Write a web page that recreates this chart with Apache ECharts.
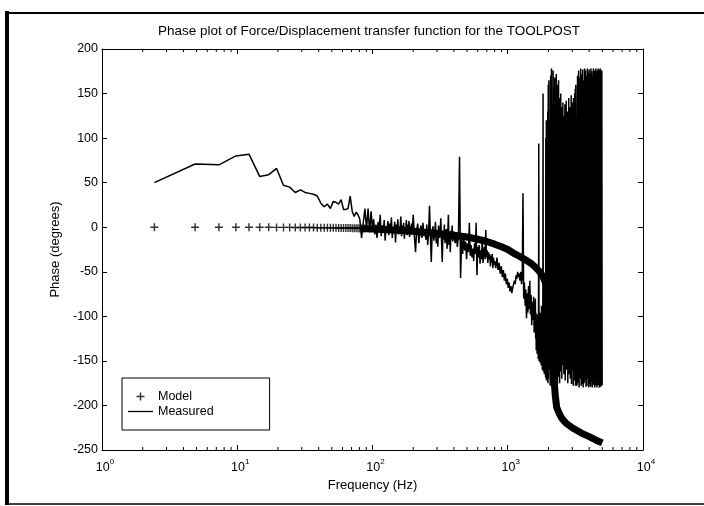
<!DOCTYPE html>
<html><head><meta charset="utf-8">
<script src="https://cdn.jsdelivr.net/npm/echarts@6/dist/echarts.min.js"></script>
<style>html,body{margin:0;padding:0;background:#fff}#c{width:704px;height:506px}</style>
</head><body><div id="c"></div>
<script>
// ---- data ----
const titleText = 'Phase plot of Force/Displacement transfer function for the TOOLPOST';
const xName = 'Frequency (Hz)';
const yName = 'Phase (degrees)';
const xMinorTicks = [2,3,4,5,6,7,8,9,20,30,40,50,60,70,80,90,200,300,400,500,600,700,800,900,2000,3000,4000,5000,6000,7000,8000,9000];

// Model: individual "+" marks at low frequency
const modelMarkFreq = [2.44,4.88,7.32,9.77,12.21,14.65,17.09,19.53,21.97,24.41,26.86,29.3,31.74,34.18,36.62,39.06,41.5,43.95,46.39,48.83,51.27,53.71,56.15,58.59,61.04,63.48,65.92,68.36,70.8,73.24,75.68,78.13,80.57,83.01,85.45,87.89];
const modelMarkPhase = [0,0,0,0,-0.1,-0.1,-0.1,-0.2,-0.2,-0.2,-0.3,-0.3,-0.3,-0.4,-0.4,-0.5,-0.5,-0.5,-0.6,-0.6,-0.7,-0.7,-0.8,-0.8,-0.9,-0.9,-1,-1,-1.1,-1.1,-1.2,-1.2,-1.3,-1.3,-1.4,-1.4];
// Model: where the marks merge into a solid band
const modelBandFreq = [85,100,150,200,300,400,500,600,700,800,900,1000,1100,1200,1300,1400,1500,1600,1700,1800,1900,1950,2000,2050,2100,2150,2200,2250,2300,2400,2500,2700,3000,3500,4000,4500,5000];
const modelBandPhase = [-1.4,-2,-3.5,-4.5,-7,-9,-11,-13.5,-16,-19,-22,-25,-29,-32,-35,-38,-41,-45,-49,-54,-62,-68,-76,-88,-115,-145,-172,-190,-202,-209,-214,-220,-225,-231,-235,-239,-242];

// Measured
const measFreq = [2.44,4.88,7.32,9.77,12.21,14.65,17.09,19.53,21.97,24.41,26.86,29.3,31.74,34.18,36.62,39.06,41.5,43.95,46.39,48.83,51.27,53.71,56.15,58.59,61.04,63.48,65.92,68.36,70.8,73.24,75.68,78.13,80.57,83.01,85.45,87.89,90.33,92.77,95.21,97.66,
100,102,104,106,108,110,112,114,116,118,120,122,124,126,128,130,132,134,136,138,140,142,144,146,148,150,152,154,156,158,160,162,164,166,168,170,172,174,176,178,180,182,184,186,188,190,192,194,196,198,
200,204,208,212,216,220,224,228,232,236,240,244,248,252,256,260,264,268,272,276,280,284,288,292,296,300,304,308,312,316,320,324,328,332,336,340,344,348,352,356,360,364,368,372,376,380,384,388,392,396,
400,408,416,424,432,440,448,456,464,472,480,488,496,504,512,520,528,536,544,552,560,568,576,584,592,600,608,616,624,632,640,648,656,664,672,680,688,696,704,712,720,728,736,744,752,760,768,776,784,792,
800,816,832,848,864,880,896,912,928,944,960,976,992,1008,1024,1040,1056,1072,1088,1104,1120,1136,1152,1168,1184,1200,1216,1232,1248,1264,1280,1296,1312,1328,1344,1360,1376,1392,1408,1424,1440,1456,1472,1488,1504,1520,1536,1552,1568,1584,
1600,1608,1616,1624,1632,1640,1648,1656,1664,1672,1680,1688,1696,1704,1712,1720,1728,1736,1744,1752,1760,1768,1776,1784,1792,1800,1808,1816,1824,1832,1840,1848,1856,1864,1872,1880,1888,1896,1904,1912,1920,1928,1936,1944,1952,1960,1968,1976,1984,1992,
2000,2015,2030,2045,2060,2075,2090,2105,2120,2135,2150,2165,2180,2195,2210,2225,2240,2255,2270,2285,2300,2315,2330,2345,2360,2375,2390,2405,2420,2435,2450,2465,2480,2495,2510,2525,2540,2555,2570,2585,2600,2615,2630,2645,2660,2675,2690,2705,2720,2735,2750,2765,2780,2795,2810,2825,2840,2855,2870,2885,2900,2915,2930,2945,2960,2975,2990,3005,3020,3035,3050,3065,3080,3095,3110,3125,3140,3155,3170,3185,
3220,3250,3280,3310,3340,3370,3400,3430,3460,3490,3520,3550,3580,3610,3640,3670,3700,3730,3760,3790,3820,3850,3880,3910,3940,3970,4000,4030,4060,4090,4120,4150,4180,4210,4240,4270,4300,4330,4360,4390,4420,4450,4480,4510,4540,4570,4600,4630,4660,4690,4720,4750,4780,4810,4840,4870,4900,4930,4960,4990];
const measPhase = [50,71,70,80,82,57,59,66,47,45,39,42,39,38,37,35,27,23,26,21,29,28,26,31,20,20,21,35,18,12,17,14,9,-12,5,21,-2,21,-6,18,
-3,9,-8,3,-12,6,-4,14,-10,2,-6,8,-15,1,-3,7,-9,4,-2,11,-12,0,-5,6,-17,3,-4,9,-8,1,-2,12,-10,2,-6,5,-13,0,-3,8,-9,3,-4,7,-11,1,-6,4,-8,2,
14,-10,-28,-3,4,-18,-6,2,-12,5,-10,-2,-14,3,-20,-4,24,-10,-39,-6,1,-15,-8,6,-18,-5,-22,2,-12,-7,10,-16,-39,-4,-14,3,-18,-8,-2,-24,-9,14,-20,-6,-28,-4,-14,2,-16,-10,
-5,-18,-8,-22,-9,79,-57,-14,-30,-10,-26,-16,-36,-18,-28,5,-32,-20,-34,-24,-38,-18,-30,5,-54,-22,-34,-20,-41,-26,-36,-14,-40,-28,-22,-36,-3,-34,-26,-40,-28,-36,-30,-44,-32,-40,-30,-46,-34,-42,
-38,-46,-34,-48,-40,-52,-44,-56,-48,-60,-52,-64,-58,-68,-62,-72,-66,-74,-68,-70,-60,-64,-54,-58,-50,-56,-52,-60,-50,-64,-56,38,-80,-62,-88,-70,-102,-74,-96,-66,-92,-60,-98,-76,-110,-84,-104,-78,-118,-90,
-80,-125,-96,-138,-100,-120,-142,-98,-130,-110,-148,-104,94,-150,-118,-140,-108,-152,-96,-136,-120,-155,-88,-140,-110,-160,-126,-150,150,-162,-118,-158,-100,-165,-130,-60,-158,-120,-168,100,-170,120,-172,-110,-165,40,-170,130,-175,160,
-170,165,-160,120,-178,170,-150,178,-175,140,-165,176,-172,155,-120,168,-178,150,-160,172,-140,160,-176,130,-168,165,-150,145,-175,120,-162,150,-130,135,-170,110,-155,140,-100,125,-165,95,-145,138,-172,115,-120,142,-160,100,-150,130,-175,120,-140,145,-165,90,-155,135,-170,110,-130,148,-176,125,-160,140,-150,105,-178,145,-165,130,-172,150,-160,155,-178,160,
160,-178,170,-175,176,-180,168,-170,178,-178,172,-176,177,-180,165,-175,178,-172,176,-179,170,-178,178,-170,174,-180,177,-176,172,-179,178,-174,175,-180,170,-177,178,-175,176,-180,173,-178,178,-172,176,-180,171,-177,178,-176,175,-180,177,-174,178,-179,172,-178,176,-177];

// ---- chart ----
const pair = (xs, ys) => xs.map((x, i) => [x, ys[i]]);
const FONT = 'Liberation Sans, Arial, Helvetica, sans-serif';
const chart = echarts.init(document.getElementById('c'), null, {renderer: 'canvas'});
const plusPath = 'path://M4.1,0H5.9V4.1H10V5.9H5.9V10H4.1V5.9H0V4.1H4.1Z';
const linePath = 'path://M0,0H25V1.3H0Z';

const xAxisBase = {
  type: 'log', logBase: 10, min: 1, max: 10000,
  axisLine: {show: true, onZero: false, lineStyle: {color: '#000', width: 1}},
  axisTick: {show: true, inside: true, length: 5, lineStyle: {color: '#000'}},
  splitLine: {show: false}
};
const yAxisBase = {
  type: 'value', min: -250, max: 200, interval: 50,
  axisLine: {show: true, onZero: false, lineStyle: {color: '#000', width: 1}},
  axisTick: {show: true, inside: true, length: 5, lineStyle: {color: '#000'}},
  splitLine: {show: false}
};

chart.setOption({
  animation: false,
  backgroundColor: '#fff',
  grid: {left: 102, top: 49, width: 541, height: 401, containLabel: false},
  xAxis: [
    Object.assign({}, xAxisBase, {
      position: 'bottom',
      name: xName, nameLocation: 'middle', nameGap: 28,
      nameTextStyle: {fontFamily: FONT, fontSize: 13, color: '#000'},
      axisLabel: {
        margin: 8, fontFamily: FONT, color: '#000',
        formatter: v => '{b|10}{s|' + Math.round(Math.log10(v)) + '}',
        rich: {
          b: {fontSize: 12.5, fontFamily: FONT, color: '#000', padding: [0, 0, 0, 6]},
          s: {fontSize: 8, fontFamily: FONT, color: '#000', padding: [0, 0, 12, 0]}
        }
      }
    }),
    Object.assign({}, xAxisBase, {position: 'top', axisLabel: {show: false}})
  ],
  yAxis: [
    Object.assign({}, yAxisBase, {
      position: 'left',
      name: yName, nameLocation: 'middle', nameGap: 30,
      nameTextStyle: {fontFamily: FONT, fontSize: 13, color: '#000'},
      axisLabel: {margin: 4, fontFamily: FONT, fontSize: 12.5, color: '#000'}
    }),
    Object.assign({}, yAxisBase, {position: 'right', axisLabel: {show: false}})
  ],
  legend: {
    left: 122, top: 378, orient: 'vertical',
    data: [{name: 'Model', icon: plusPath}, {name: 'Measured', icon: linePath}],
    backgroundColor: '#fff', borderColor: '#000', borderWidth: 1, borderRadius: 0,
    padding: [12, 56, 12, 6], itemGap: 2, itemWidth: 25, itemHeight: 8,
    itemStyle: {color: '#000', borderWidth: 0},
    textStyle: {fontFamily: FONT, fontSize: 12.5, color: '#000'}
  },
  graphic: [
    {type: 'text', x: 369, y: 31, style: {text: titleText, font: '13.5px ' + FONT, fill: '#000', align: 'center', verticalAlign: 'middle'}},
    {type: 'line', shape: {x1: 7, y1: 11, x2: 7, y2: 505}, style: {stroke: '#000', lineWidth: 4}},
    {type: 'line', shape: {x1: 7, y1: 13, x2: 704, y2: 13}, style: {stroke: '#000', lineWidth: 2}},
    {type: 'line', shape: {x1: 7, y1: 504, x2: 704, y2: 504}, style: {stroke: '#000', lineWidth: 1.5}}
  ],
  series: [
    {
      name: 'Model', type: 'scatter', symbol: plusPath, symbolSize: 8, symbolKeepAspect: true,
      itemStyle: {color: '#000'},
      data: pair(modelMarkFreq, modelMarkPhase), z: 3
    },
    {
      name: 'ModelBand', type: 'line', showSymbol: false, symbol: 'none',
      lineStyle: {color: '#000', width: 7}, data: pair(modelBandFreq, modelBandPhase), z: 2
    },
    {
      name: 'Measured', type: 'line', showSymbol: false, symbol: 'none',
      lineStyle: {color: '#000', width: 1.5}, itemStyle: {color: '#000'},
      data: pair(measFreq, measPhase), z: 4
    },
    {
      name: 'minorTicks', type: 'custom', silent: true, z: 5,
      data: xMinorTicks.map(v => [v, 0]),
      renderItem: (params, api) => {
        const x = api.coord([api.value(0), 0])[0];
        const top = params.coordSys.y, bot = params.coordSys.y + params.coordSys.height;
        return {type: 'group', children: [
          {type: 'line', shape: {x1: x, y1: bot, x2: x, y2: bot - 3}, style: {stroke: '#000', lineWidth: 1}},
          {type: 'line', shape: {x1: x, y1: top, x2: x, y2: top + 3}, style: {stroke: '#000', lineWidth: 1}}
        ]};
      }
    }
  ]
});
</script></body></html>
